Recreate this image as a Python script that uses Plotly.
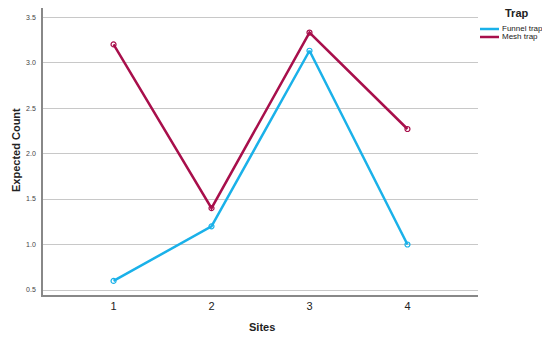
import plotly.graph_objects as go

sites = [1, 2, 3, 4]
funnel_trap = [0.6, 1.2, 3.13, 1.0]
mesh_trap = [3.2, 1.4, 3.33, 2.27]
y_ticks = [0.5, 1.0, 1.5, 2.0, 2.5, 3.0, 3.5]
series_names = ['Funnel trap', 'Mesh trap']
colors = ['#1ab1e9', '#a80f4b']

# the page body has an 8px margin, so the figure is sized to fit inside the window
OFF = 8
W, H = 550 - OFF, 337 - OFF
L, R, T, B = 43 - OFF, 72, 0, 42
pw, ph = W - L - R, H - T - B


def px(x):
    return (x - OFF - L) / pw


def py(y):
    return (H - B - (y - OFF)) / ph


fig = go.Figure()

for name, vals, c in zip(series_names, [funnel_trap, mesh_trap], colors):
    fig.add_trace(go.Scatter(x=sites, y=vals, mode='lines+markers', name=name, showlegend=False,
                             line=dict(color=c, width=2.5),
                             marker=dict(symbol='circle-open', size=5, color=c, line=dict(width=1.2))))

# hand-made legend (SPSS style, tight rows)
shapes = []
annotations = []
annotations.append(dict(text='<b>Trap</b>', x=px(503), y=py(13), xref='paper', yref='paper',
                        xanchor='left', yanchor='middle', showarrow=False, font=dict(size=11, color='#222222')))
for i, (name, c) in enumerate(zip(series_names, colors)):
    yy = 29 + 8 * i
    shapes.append(dict(type='line', xref='paper', yref='paper', x0=px(480), x1=px(499), y0=py(yy), y1=py(yy),
                       line=dict(color=c, width=2.5)))
    annotations.append(dict(text=name, x=px(500), y=py(yy), xref='paper', yref='paper',
                            xanchor='left', yanchor='middle', showarrow=False, font=dict(size=8, color='#222222')))

annotations.append(dict(text='<b>Sites</b>', x=px(262), y=py(327), xref='paper', yref='paper',
                        xanchor='center', yanchor='middle', showarrow=False, font=dict(size=11, color='#222222')))
annotations.append(dict(text='<b>Expected Count</b>', x=px(8), y=py(150), xref='paper', yref='paper',
                        xanchor='left', yanchor='middle', textangle=-90, showarrow=False,
                        font=dict(size=11, color='#222222')))

fig.update_layout(
    width=W, height=H,
    margin=dict(l=L, r=R, t=T, b=B, pad=0, autoexpand=False),
    plot_bgcolor='white',
    paper_bgcolor='white',
    font=dict(family='Liberation Sans, Arial', color='#222222'),
    showlegend=False,
    shapes=shapes,
    annotations=annotations,
    xaxis=dict(
        range=[0.28, 4.72], tickvals=sites, ticktext=[str(s) for s in sites],
        showgrid=False, zeroline=False, automargin=False,
        showline=True, linecolor='#888888', linewidth=1.5,
        tickfont=dict(size=11), ticks='',
    ),
    yaxis=dict(
        range=[0.445, 3.6], tickvals=y_ticks, ticktext=['%.1f' % v for v in y_ticks],
        showgrid=True, gridcolor='#c8c8c8', gridwidth=1, zeroline=False, automargin=False,
        showline=True, linecolor='#888888', linewidth=1.5,
        tickfont=dict(size=7, color='#444444'), ticks='outside', ticklen=4, tickcolor='rgba(0,0,0,0)',
    ),
)

fig.write_html("out.html")
